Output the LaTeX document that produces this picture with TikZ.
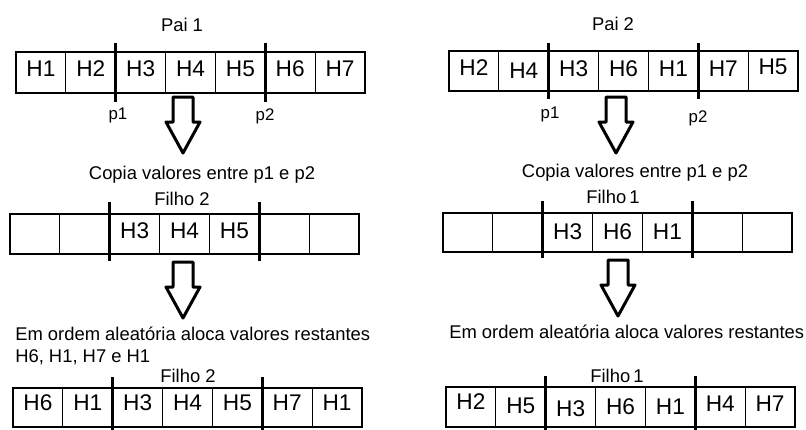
\documentclass[tikz,border=0pt]{standalone}
\usepackage{fontspec}
\setmainfont{Liberation Sans}
\usetikzlibrary{calc}

\tikzset{
  cell/.style={draw, line width=0.9pt, minimum width=37.395pt, inner sep=0pt, outer sep=0pt},
  celltext/.style={font=\fontsize{17}{19}\selectfont, anchor=base, inner sep=0pt},
  lab/.style={font=\fontsize{13.8}{16}\selectfont, anchor=base, inner sep=0pt},
  plab/.style={font=\fontsize{12.6}{14}\selectfont, anchor=base, inner sep=0pt},
  cut/.style={line width=2.6pt},
  blockarrow/.style={draw, line width=2.25pt, line join=round},
}

% #1 row name, #2 left x, #3 top y, #4 cell height, #5 baseline offset,
% #6 cut line overhang above, #7 overhang below, #8 list of label/shift
\newcommand\cellrow[8]{%
  \foreach \lab/\sh [count=\i] in {#8} {
    \node[cell, minimum height=#4*0.75pt, anchor=north west] (#1c\i) at ({#2+(\i-1)*49.86},#3) {};
    \node[celltext] (#1t\i) at ({#2+(\i-0.5)*49.86},{#3+#5+\sh}) {\lab};
  }
  \draw[cut] ($(#1c2.north east)+(0,-#6)$) -- ($(#1c2.south east)+(0,#7)$);
  \draw[cut] ($(#1c5.north east)+(0,-#6)$) -- ($(#1c5.south east)+(0,#7)$);
}

% hollow downward block arrow: #1 centre x, #2 top y
\newcommand\downblock[2]{%
  \draw[blockarrow] (#1-10,#2) -- (#1+10,#2) -- (#1+10,#2+25) -- (#1+17,#2+25)
    -- (#1,#2+56) -- (#1-17,#2+25) -- (#1-10,#2+25) -- cycle;
}

\begin{document}
\begin{tikzpicture}[x=0.75pt, y=-0.75pt]
\useasboundingbox (0,0) rectangle (806,429);

% ---------- left column: parent 1 -> child 2 ----------
\node[lab] (pai1) at (182,31) {Pai 1};
\cellrow{ra}{16}{52}{41}{24}{9}{9}{H1/0,H2/0,H3/0,H4/0,H5/0,H6/0,H7/0}
\node[plab] (ap1) at (118,119) {p1};
\node[plab] (ap2) at (265,120) {p2};
\downblock{183}{97}
\node[lab] (copia1) at (202,179) {Copia valores entre p1 e p2};
\node[lab] (filho2a) at (182,205) {Filho 2};
\cellrow{rc}{10}{214}{40}{24}{12}{7}{/0,/0,H3/0,H4/0,H5/0,/0,/0}
\downblock{183}{262}
\node[lab, anchor=base west] (ordem1) at (15,340) {Em ordem aleatória aloca valores restantes};
\node[lab, anchor=base west] (resto1) at (15,362) {H6, H1, H7 e H1};
\node[lab] (filho2b) at (188,382) {Filho 2};
\cellrow{re}{13}{388}{39}{22}{11}{6}{H6/0,H1/0,H3/0,H4/0,H5/0,H7/0,H1/0}

% ---------- right column: parent 2 -> child 1 ----------
\node[lab] (pai2) at (613,30) {Pai 2};
\cellrow{rb}{449}{51}{40}{25}{8}{8}{H2/-1,H4/2,H3/0,H6/0,H1/0,H7/0,H5/-2}
\node[plab] (bp1) at (550,118) {p1};
\node[plab] (bp2) at (698,122) {p2};
\downblock{616}{97}
\node[lab] (copia2) at (635,177) {Copia valores entre p1 e p2};
\node[lab] (filho1a) at (613,203) {Filho\,1};
\cellrow{rd}{443}{213}{39}{26}{12}{6}{/0,/0,H3/0,H6/0,H1/0,/0,/0}
\downblock{618}{260}
\node[lab, anchor=base west] (ordem2) at (449,338) {Em ordem aleatória aloca valores restantes};
\node[lab] (filho1b) at (617,382) {Filho\,1};
\cellrow{rf}{446}{387}{40}{26}{11}{6}{H2/-4,H5/0,H3/3,H6/1,H1/1,H4/-2,H7/-2}

\end{tikzpicture}
\end{document}
